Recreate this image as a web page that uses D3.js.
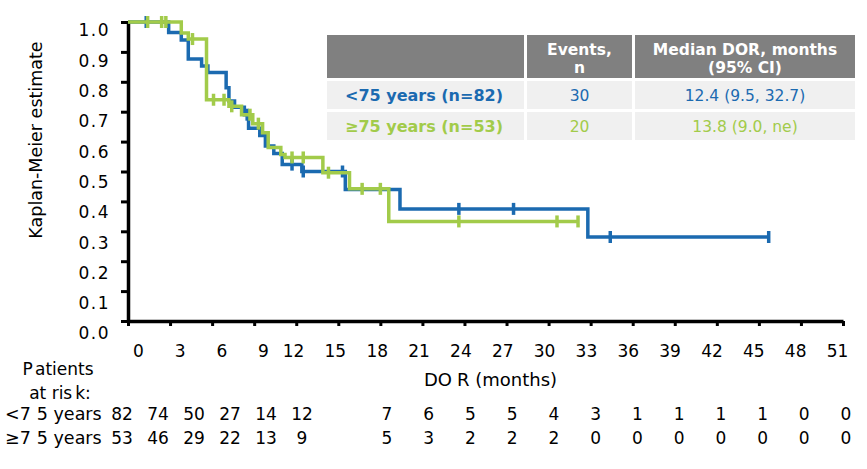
<!DOCTYPE html>
<html><head><meta charset="utf-8">
<script src="https://cdn.jsdelivr.net/npm/d3@7"></script>
<style>
body{margin:0;background:#fff}
svg{display:block}
text{font-family:"DejaVu Sans",Verdana,sans-serif;fill:#000}
</style>
</head><body>
<svg id="chart" width="867" height="469"></svg>
<script>
// ---------- data ----------
const groupNames = ["<75 years", "≥75 years"];
const groupNs = [82, 53];
const groupColors = ["#1b6ab0", "#a2cb4a"];

// Kaplan-Meier steps (time of drop in months, survival after drop)
const ltStepTimes = [0, 2.9, 3.8, 4.3, 5.25, 5.7, 7.0, 7.2, 7.6, 8.3, 8.6, 9.4, 9.8, 10.4, 11.0, 12.4, 15.5, 19.4, 32.8];
const ltStepSurv  = [1.0, 0.965, 0.94, 0.876, 0.853, 0.831, 0.78, 0.736, 0.715, 0.69, 0.645, 0.62, 0.585, 0.56, 0.523, 0.50, 0.44, 0.375, 0.281];
const ltEnd = 45.7;
const ltCensor = [1.3, 8.5, 11.7, 12.5, 15.3, 23.6, 27.5, 34.4, 45.7];

const geStepTimes = [0, 3.8, 4.3, 5.6, 7.2, 8.1, 8.9, 9.6, 10.0, 10.9, 11.2, 13.9, 15.8, 18.6];
const geStepSurv  = [1.0, 0.963, 0.943, 0.74, 0.718, 0.69, 0.66, 0.63, 0.58, 0.557, 0.547, 0.496, 0.442, 0.333];
const geEnd = 32.1;
const geCensor = [1.4, 2.4, 2.7, 4.6, 6.1, 6.85, 7.4, 8.7, 9.3, 11.7, 12.5, 14.3, 16.7, 18.0, 23.6, 30.6, 32.1];

const xTickValues = d3.range(0, 52, 3);
const yTickValues = [0, 0.1, 0.2, 0.3, 0.4, 0.5, 0.6, 0.7, 0.8, 0.9, 1.0];

const riskTimes = d3.range(0, 52, 3);
const riskLt75 = [82, 74, 50, 27, 14, 12, 7, 6, 5, 5, 4, 3, 1, 1, 1, 1, 0, 0];
const riskGe75 = [53, 46, 29, 22, 13, 9, 5, 3, 2, 2, 2, 0, 0, 0, 0, 0, 0, 0];

const tableHeaders = [["", ""], ["Events,", "n"], ["Median DOR, months", "(95% CI)"]];
const tableEvents = [30, 20];
const tableMedians = ["12.4 (9.5, 32.7)", "13.8 (9.0, ne)"];

// ---------- drawing ----------
const svg = d3.select("#chart");
const x = d3.scaleLinear().domain([0, 51]).range([128, 843]);
const y = d3.scaleLinear().domain([0, 1]).range([321, 22]);
// label positions in reference are slightly offset from ticks
const xLabel = d3.scaleLinear().domain([0, 9, 12, 51]).range([138, 263, 293, 837]);
const yLabel = d3.scaleLinear().domain([0, 1]).range([333, 30]);
const riskX = d3.scaleLinear().domain([0, 15, 18, 51]).range([122, 302, 387, 846]);

// axes
const gx = svg.append("g").attr("transform", `translate(0,${y(0)})`)
  .call(d3.axisBottom(x).tickValues(xTickValues).tickSize(5).tickSizeOuter(0));
gx.select(".domain").attr("stroke", "#000").attr("stroke-width", 3.5);
gx.selectAll(".tick line").attr("stroke", "#000").attr("stroke-width", 3);
gx.selectAll(".tick text")
  .attr("x", d => xLabel(d) - x(d)).attr("y", 36).attr("dy", 0)
  .attr("font-size", 17).attr("font-family", "DejaVu Sans").attr("fill", "#000");

const gy = svg.append("g").attr("transform", `translate(${x(0)},0)`)
  .call(d3.axisLeft(y).tickValues(yTickValues).tickSize(7).tickSizeOuter(0).tickFormat(d3.format(".1f")));
gy.select(".domain").attr("stroke", "#000").attr("stroke-width", 3.5);
gy.selectAll(".tick line").attr("stroke", "#000").attr("stroke-width", 3);
gy.selectAll(".tick text")
  .attr("x", -18).attr("y", d => yLabel(d) - y(d)).attr("dy", "0.35em")
  .attr("font-size", 17).attr("font-family", "DejaVu Sans").attr("letter-spacing", "1.5px").attr("fill", "#000");

// y title
svg.append("text").attr("transform", "translate(42,140) rotate(-90)")
  .attr("text-anchor", "middle").attr("font-size", 17.5).text("Kaplan-Meier estimate");

// x title
const xt = svg.append("text").attr("x", 424).attr("y", 386).attr("font-size", 18);
xt.append("tspan").text("DO");
xt.append("tspan").attr("dx", 5).text("R (months)");

// curves
function stepData(times, surv, end) {
  const pts = times.map((t, i) => ({t, s: surv[i]}));
  pts.push({t: end, s: surv[surv.length - 1]});
  return pts;
}
function survAt(times, surv, t) {
  const i = d3.bisectRight(times, t) - 1;
  return surv[Math.max(0, i)];
}
const line = d3.line().x(d => x(d.t)).y(d => y(d.s)).curve(d3.curveStepAfter);
const series = [
  {times: ltStepTimes, surv: ltStepSurv, end: ltEnd, censor: ltCensor, color: groupColors[0]},
  {times: geStepTimes, surv: geStepSurv, end: geEnd, censor: geCensor, color: groupColors[1]}
];
series.forEach(sr => {
  svg.append("path").datum(stepData(sr.times, sr.surv, sr.end))
    .attr("d", line).attr("fill", "none").attr("stroke", sr.color)
    .attr("stroke-width", 3.5).attr("stroke-linejoin", "miter");
  svg.append("g").selectAll("line").data(sr.censor).join("line")
    .attr("x1", d => x(d)).attr("x2", d => x(d))
    .attr("y1", d => y(survAt(sr.times, sr.surv, d)) - 6)
    .attr("y2", d => y(survAt(sr.times, sr.surv, d)) + 6)
    .attr("stroke", sr.color).attr("stroke-width", 3.5);
});

// summary table
const colX = [327, 527, 635];
const colW = [197, 105, 220];
const rowY = [35, 81, 112];
const rowH = [43, 28, 28];
const tbl = svg.append("g");
for (let r = 0; r < 3; r++) {
  for (let c = 0; c < 3; c++) {
    tbl.append("rect").attr("x", colX[c]).attr("y", rowY[r]).attr("width", colW[c]).attr("height", rowH[r])
      .attr("fill", r === 0 ? "#808080" : "#f0f0f0");
  }
}
tableHeaders.forEach((h, c) => {
  h.forEach((line, k) => {
    if (!line) return;
    tbl.append("text").attr("x", colX[c] + colW[c] / 2).attr("y", 55 + k * 18)
      .attr("text-anchor", "middle").attr("font-size", 15.5).attr("font-weight", "bold")
      .style("fill", "#fff").text(line);
  });
});
groupNames.forEach((g, i) => {
  const cy = rowY[i + 1] + 20;
  tbl.append("text").attr("x", 345).attr("y", cy).attr("font-size", 16).attr("font-weight", "bold")
    .style("fill", groupColors[i]).text(`${g} (n=${groupNs[i]})`);
  tbl.append("text").attr("x", colX[1] + colW[1] / 2).attr("y", cy).attr("text-anchor", "middle")
    .attr("font-size", 15.5).style("fill", groupColors[i]).text(tableEvents[i]);
  tbl.append("text").attr("x", colX[2] + colW[2] / 2).attr("y", cy).attr("text-anchor", "middle")
    .attr("font-size", 15.5).style("fill", groupColors[i]).text(tableMedians[i]);
});

// patients at risk
const p1 = svg.append("text").attr("x", 58).attr("y", 375).attr("text-anchor", "middle").attr("font-size", 17);
p1.append("tspan").text("P"); p1.append("tspan").attr("dx", 3).text("atients");
const p2 = svg.append("text").attr("x", 60).attr("y", 399).attr("text-anchor", "middle").attr("font-size", 17);
p2.append("tspan").text("at ris"); p2.append("tspan").attr("dx", 3).text("k:");

[riskLt75, riskGe75].forEach((vals, i) => {
  const by = 420 + i * 24;
  const lab = svg.append("text").attr("x", 5).attr("y", by).attr("font-size", 17.5);
  lab.append("tspan").text(groupNames[i].slice(0, 2));
  lab.append("tspan").attr("dx", 6).text(groupNames[i].slice(2));
  svg.append("g").selectAll("text").data(vals).join("text")
    .attr("x", (d, k) => riskX(riskTimes[k])).attr("y", by)
    .attr("text-anchor", "middle").attr("font-size", 17).text(d => d);
});
</script>
</body></html>
